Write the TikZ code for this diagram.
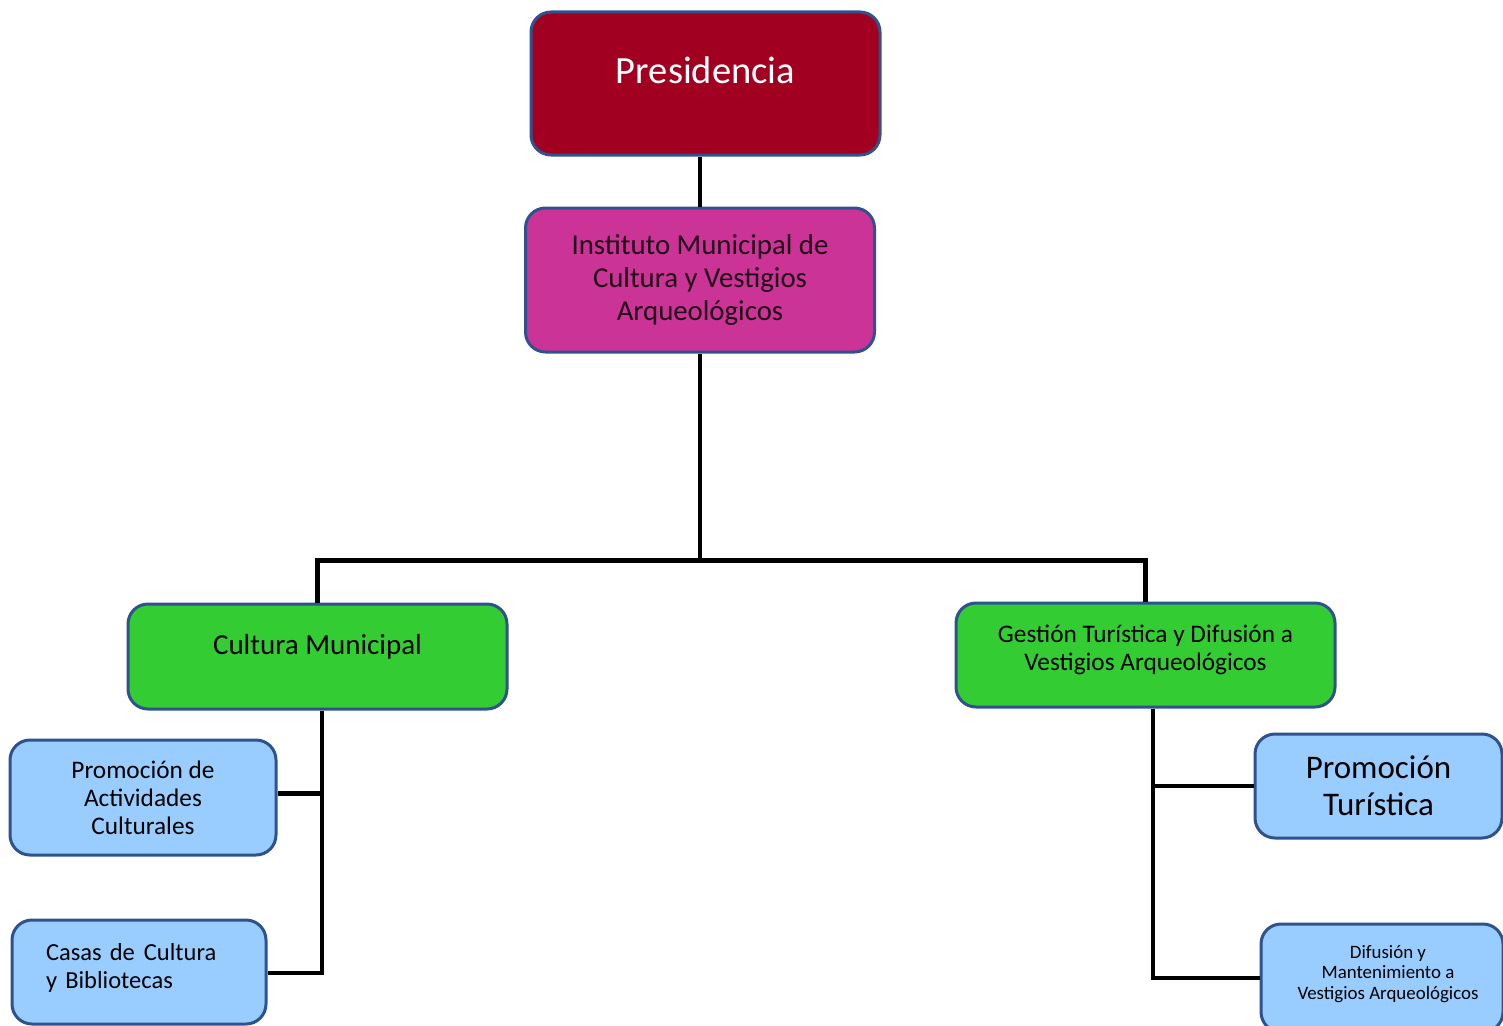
\documentclass[tikz,border=0pt]{standalone}
\usepackage{fontspec}
\setmainfont{Carlito}
\definecolor{bord}{HTML}{2F528F}
\definecolor{cred}{HTML}{A20021}
\definecolor{cmag}{HTML}{CB3396}
\definecolor{cgreen}{HTML}{33CC33}
\definecolor{cblue}{HTML}{99CCFF}
\definecolor{darktext}{HTML}{1E0614}
\begin{document}
\begin{tikzpicture}[x=1pt,y=-1pt,
  box/.style={draw=bord, line width=3pt, rounded corners=20pt, align=center, inner sep=0pt, anchor=center},
  link/.style={draw=black, line width=4.5pt},
  fs/.style 2 args={font=\fontsize{#1}{#2}\selectfont}]
\clip (0,0) rectangle (1503,1025);
\fill[white] (0,0) rectangle (1503,1025);
% boxes
\node[box, fill=cred, text=white, minimum width=349pt, minimum height=143pt, text depth=26pt, fs={38.5}{44}]
  (pres) at (705.5,83.5) {Presidencia};
\node[box, fill=cmag, text=darktext, minimum width=349pt, minimum height=144pt, text depth=5pt, fs={28.8}{33}]
  (inst) at (700,280) {Instituto Municipal de\\Cultura y Vestigios\\Arqueológicos};
\node[box, fill=cgreen, text=black, minimum width=379pt, minimum height=105pt, text depth=24pt, fs={29}{32}]
  (cm) at (317.5,656.5) {Cultura Municipal};
\node[box, fill=cgreen, text=black, minimum width=379pt, minimum height=104pt, text depth=14pt, fs={25.3}{28}]
  (gt) at (1145.5,655) {Gestión Turística y Difusión a\\Vestigios Arqueológicos};
\node[box, fill=cblue, text=black, minimum width=266pt, minimum height=115pt, text depth=0pt, fs={25.3}{28}]
  (pac) at (143,797.5) {Promoción de\\Actividades\\Culturales};
\node[box, fill=cblue, text=black, minimum width=254pt, minimum height=104pt, text width=186pt, align=left, text depth=40pt, fs={24.5}{28}]
  (cas) at (139,972) {Casas de\hspace{9pt}Cultura\\y Bibliotecas};
\node[box, fill=cblue, text=black, minimum width=247pt, minimum height=104pt, fs={33}{37}]
  (pt) at (1378.5,786) {Promoción\\Turística};
\node[box, fill=cblue, text=black, minimum width=242pt, minimum height=108pt, text depth=12pt, fs={18.9}{20.5}]
  (dif) at (1382,978) {\hspace*{12pt}Difusión y\\\hspace*{12pt}Mantenimiento a\\\hspace*{12pt}Vestigios Arqueológicos};
% connectors
\path (inst.south) ++(0,207) coordinate (bar);
\draw[link] (inst.north) -- (inst.north |- pres.south);
\draw[link] (inst.south) -- (bar);
\draw[link] (cm.north) |- (bar) -| (gt.north);
\draw[link] ([xshift=4.5pt]cm.south) |- ([yshift=4pt]pac.east);
\draw[link] ([xshift=4.5pt]cm.south) |- ([yshift=-1pt]cas.east);
\draw[link] ([xshift=7.5pt]gt.south) |- (pt.west);
\draw[link] ([xshift=7.5pt]gt.south) |- (dif.west);
\end{tikzpicture}
\end{document}
